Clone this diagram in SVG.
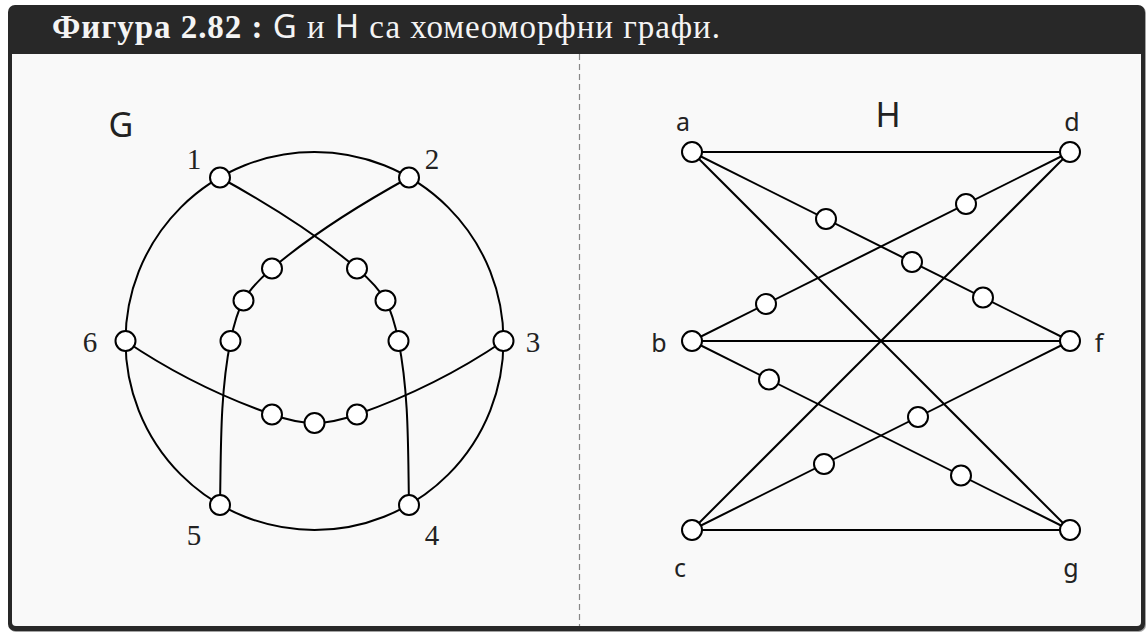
<svg xmlns="http://www.w3.org/2000/svg" width="1147" height="634" viewBox="0 0 1147 634">
<style>
.node{fill:#fff;stroke:#000;stroke-width:2}
.edge{fill:none;stroke:#000;stroke-width:2}
.num{font-family:"Liberation Serif",serif;font-size:29px;fill:#222;text-anchor:middle}
.let{font-family:"Noto Sans",sans-serif;font-size:25px;fill:#222;text-anchor:middle}
.big{font-family:"Noto Sans",sans-serif;font-size:34px;fill:#222;text-anchor:middle}
.hdr{font-family:"Liberation Serif",serif;font-size:33px;fill:#f4f4f4}
.sans{font-family:"Noto Sans",sans-serif}
</style>
<defs>
<circle id="v" r="10" class="node"/>
</defs>
<g id="frame">
<rect x="9" y="6" width="1137" height="626" rx="7" fill="#666" opacity="0.6"/>
<rect x="8" y="5" width="1137" height="626" rx="7" fill="#282828"/>
<rect x="12" y="54" width="1129" height="572" rx="4" fill="#f9f9f9"/>
<rect x="12" y="54" width="1129" height="10" fill="#f9f9f9"/>
<text class="hdr" x="52" y="38" textLength="668" lengthAdjust="spacing"><tspan font-weight="bold">Фигура 2.82 :</tspan> <tspan class="sans">G</tspan> и <tspan class="sans">H</tspan> са хомеоморфни графи.</text>
<line x1="579.5" y1="54" x2="579.5" y2="626" stroke="#888" stroke-width="1.2" stroke-dasharray="6 4"/>
</g>
<g id="connectors">
<circle class="edge" cx="314.5" cy="341" r="189"/>
<path class="edge" d="M409,177.5 C361,203.9 313.8,233 272,268.5 C261.1,277.8 250.4,288 243.5,300.5 C236.6,312.9 233.3,327.1 230.5,341 C219.8,394.8 221.1,450.2 220,505"/>
<path class="edge" d="M220,177.5 C268,203.9 315.2,233 357,268.5 C367.9,277.8 378.6,288 385.5,300.5 C392.4,312.9 395.7,327.1 398.5,341 C409.2,394.8 407.9,450.2 409,505"/>
<path class="edge" d="M125.5,341 C171,371.9 220.1,396.3 272,414.5 C285.6,419.3 300,423 314.5,423 C329,423 343.4,419.3 357,414.5 C408.9,396.3 458,371.9 503.5,341"/>
<line class="edge" x1="692" y1="152" x2="1070" y2="152"/>
<line class="edge" x1="692" y1="341" x2="1070" y2="341"/>
<line class="edge" x1="692" y1="530" x2="1070" y2="530"/>
<line class="edge" x1="692" y1="152" x2="1070" y2="341"/>
<line class="edge" x1="1070" y1="152" x2="692" y2="341"/>
<line class="edge" x1="692" y1="341" x2="1070" y2="530"/>
<line class="edge" x1="692" y1="530" x2="1070" y2="341"/>
<line class="edge" x1="692" y1="152" x2="1070" y2="530"/>
<line class="edge" x1="1070" y1="152" x2="692" y2="530"/>
</g>
<g id="graphG">
<text class="big" x="121" y="137">G</text>
<g id="g1"><use href="#v" x="220" y="177.5"/><text class="num" x="194" y="169">1</text></g>
<g id="g2"><use href="#v" x="409" y="177.5"/><text class="num" x="432" y="169">2</text></g>
<g id="g3"><use href="#v" x="503.5" y="341"/><text class="num" x="533" y="352">3</text></g>
<g id="g4"><use href="#v" x="409" y="505"/><text class="num" x="432" y="545">4</text></g>
<g id="g5"><use href="#v" x="220" y="505"/><text class="num" x="194" y="545">5</text></g>
<g id="g6"><use href="#v" x="125.5" y="341"/><text class="num" x="90" y="352">6</text></g>
<g id="gs1"><use href="#v" x="272" y="268.5"/></g>
<g id="gs2"><use href="#v" x="243.5" y="300.5"/></g>
<g id="gs3"><use href="#v" x="230.5" y="341"/></g>
<g id="gs4"><use href="#v" x="357" y="268.5"/></g>
<g id="gs5"><use href="#v" x="385.5" y="300.5"/></g>
<g id="gs6"><use href="#v" x="398.5" y="341"/></g>
<g id="gs7"><use href="#v" x="272" y="414.5"/></g>
<g id="gs8"><use href="#v" x="314.5" y="423"/></g>
<g id="gs9"><use href="#v" x="357" y="414.5"/></g>
</g>
<g id="graphH">
<text class="big" x="888" y="127">H</text>
<g id="ha"><use href="#v" x="692" y="152"/><text class="let" x="683" y="131">a</text></g>
<g id="hd"><use href="#v" x="1070" y="152"/><text class="let" x="1072" y="131">d</text></g>
<g id="hb"><use href="#v" x="692" y="341"/><text class="let" x="659" y="352">b</text></g>
<g id="hf"><use href="#v" x="1070" y="341"/><text class="let" x="1099" y="352">f</text></g>
<g id="hc"><use href="#v" x="692" y="530"/><text class="let" x="680" y="577">c</text></g>
<g id="hg"><use href="#v" x="1070" y="530"/><text class="let" x="1071" y="577">g</text></g>
<g id="hs1"><use href="#v" x="826" y="219"/></g>
<g id="hs2"><use href="#v" x="912" y="262"/></g>
<g id="hs3"><use href="#v" x="983" y="297.5"/></g>
<g id="hs4"><use href="#v" x="966" y="204"/></g>
<g id="hs5"><use href="#v" x="766" y="304"/></g>
<g id="hs6"><use href="#v" x="769" y="379.5"/></g>
<g id="hs7"><use href="#v" x="961" y="475.5"/></g>
<g id="hs8"><use href="#v" x="824" y="464"/></g>
<g id="hs9"><use href="#v" x="918" y="417"/></g>
</g>
</svg>
